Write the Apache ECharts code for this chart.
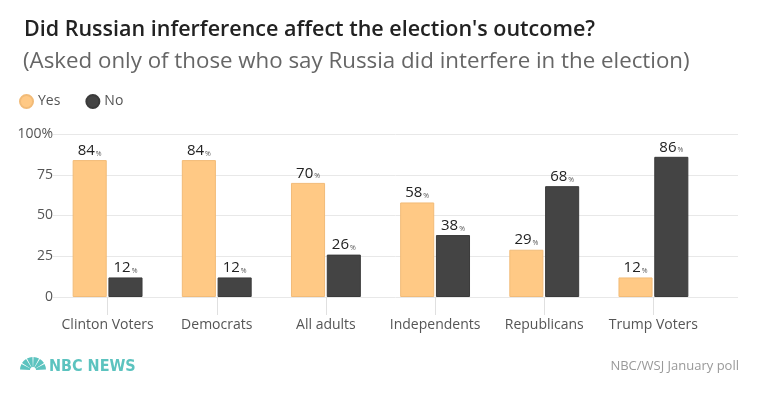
<!DOCTYPE html>
<html>
<head>
<meta charset="utf-8">
<script src="https://cdn.jsdelivr.net/npm/echarts@6/dist/echarts.min.js"></script>
<style>
  html, body { margin: 0; padding: 0; background: #fff; }
  #chart { width: 760px; height: 399px; }
</style>
</head>
<body>
<div id="chart"></div>
<script>
var categories = ['Clinton Voters', 'Democrats', 'All adults', 'Independents', 'Republicans', 'Trump Voters'];
var yesValues = [84, 84, 70, 58, 29, 12];
var noValues = [12, 12, 26, 38, 68, 86];
var yTicks = [0, 25, 50, 75, 100];

var chart = echarts.init(document.getElementById('chart'));

var font = '"Open Sans", sans-serif';

function valueLabel() {
  return {
    show: true,
    position: 'top',
    distance: 2,
    formatter: '{v|{c}}{p|%}',
    rich: {
      v: { fontFamily: font, fontSize: 15, color: '#222' },
      p: { fontFamily: font, fontSize: 7, color: '#555', padding: [6, 0, 0, 1] }
    }
  };
}

// peacock petals for the logo
var petals = [];
for (var i = 0; i < 6; i++) {
  var a0 = Math.PI + i * Math.PI / 6;
  petals.push({
    type: 'sector',
    shape: { cx: 33, cy: 370, r0: 3, r: 13, startAngle: a0 + 0.04, endAngle: a0 + Math.PI / 6 - 0.04 },
    style: { fill: '#5cc3bf' }
  });
}

var option = {
  backgroundColor: '#ffffff',
  color: ['#ffc985', '#444444'],
  animation: false,
  title: [{
    text: "Did Russian inferference affect the election's outcome?",
    left: 19, top: 14,
    textStyle: { fontFamily: font, fontSize: 21.5, fontWeight: 600, color: '#222' }
  }, {
    text: '(Asked only of those who say Russia did interfere in the election)',
    left: 18, top: 46,
    textStyle: { fontFamily: font, fontSize: 22.3, fontWeight: 'normal', color: '#666' }
  }, {
    text: 'NBC/WSJ January poll',
    right: 16, top: 355,
    textStyle: { fontFamily: font, fontSize: 13, fontWeight: 'normal', color: '#999' }
  }, {
    text: 'NBC NEWS',
    left: 44, top: 354,
    textStyle: { fontFamily: '"DejaVu Sans Condensed", sans-serif', fontSize: 16, fontWeight: 'bold', color: '#5cc3bf' }
  }],
  graphic: petals,
  legend: {
    left: 14, top: 89,
    icon: 'circle',
    itemWidth: 13, itemHeight: 13, itemGap: 25,
    textStyle: { fontFamily: font, fontSize: 14, color: '#555' },
    data: ['Yes', 'No']
  },
  grid: [
    { left: 53, right: 52, top: 134, bottom: 102, containLabel: false },
    { left: 53, right: 22, top: 134, bottom: 102, containLabel: false }
  ],
  xAxis: [{
    type: 'category',
    gridIndex: 0,
    data: categories,
    axisLine: { show: false },
    axisTick: { show: true, alignWithLabel: true, length: 18, lineStyle: { color: '#e0e0e0' } },
    axisLabel: { interval: 0, fontFamily: font, fontSize: 14, color: '#555', margin: 21 }
  }, {
    type: 'value',
    gridIndex: 1,
    show: false
  }],
  yAxis: [{
    type: 'value',
    gridIndex: 0,
    min: yTicks[0], max: yTicks[yTicks.length - 1], interval: 25,
    axisLine: { show: false },
    axisTick: { show: false },
    axisLabel: { show: false },
    splitLine: { show: false }
  }, {
    type: 'value',
    gridIndex: 1,
    min: yTicks[0], max: yTicks[yTicks.length - 1], interval: 25,
    axisLine: { show: false },
    axisTick: { show: false },
    axisLabel: {
      fontFamily: font, fontSize: 14, color: '#555', margin: 0,
      formatter: function (v) { return v === 100 ? '100%' : String(v); }
    },
    splitLine: { show: true, lineStyle: { color: '#e8e8e8', width: 1 } }
  }],
  series: [{
    name: 'Yes',
    type: 'bar',
    xAxisIndex: 0, yAxisIndex: 0,
    data: yesValues,
    barGap: '5%',
    barCategoryGap: '36%',
    itemStyle: { borderColor: '#f2bb78', borderWidth: 1 },
    label: valueLabel()
  }, {
    name: 'No',
    type: 'bar',
    xAxisIndex: 0, yAxisIndex: 0,
    data: noValues,
    itemStyle: { borderColor: '#3a3a3a', borderWidth: 1 },
    label: valueLabel()
  }]
};

chart.setOption(option);
</script>
</body>
</html>
